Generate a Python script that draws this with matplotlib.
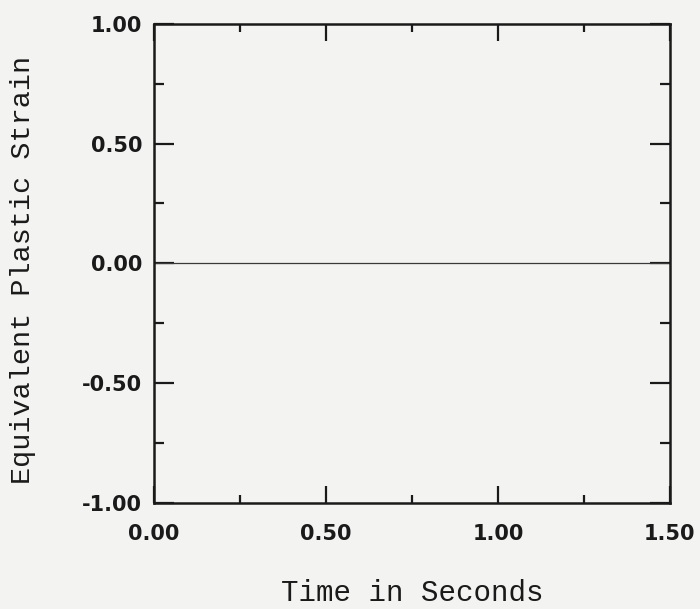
import matplotlib

matplotlib.use("Agg")
import matplotlib.pyplot as plt
from matplotlib.ticker import MultipleLocator

# data: strain stays at zero
time_s = [0.0, 1.5]
strain = [0.0, 0.0]

x_ticks = [0.0, 0.5, 1.0, 1.5]
y_ticks = [-1.0, -0.5, 0.0, 0.5, 1.0]

paper = "#f3f3f1"
ink = "#1a1a1a"

fig = plt.figure(figsize=(7.0, 6.09), dpi=100, facecolor=paper)
ax = fig.add_axes([0.22, 0.174, 0.737, 0.787], facecolor=paper)

ax.plot(time_s, strain, color="#3a3a3a", linewidth=0.9)

ax.set_xlim(0.0, 1.5)
ax.set_ylim(-1.0, 1.0)
ax.set_xticks(x_ticks)
ax.set_yticks(y_ticks)
ax.set_xticklabels([f"{v:.2f}" for v in x_ticks])
ax.set_yticklabels([f"{v:.2f}" for v in y_ticks])
ax.xaxis.set_minor_locator(MultipleLocator(0.25))
ax.yaxis.set_minor_locator(MultipleLocator(0.25))

ax.tick_params(which="both", direction="in", top=True, right=True,
               color=ink, width=1.6)
ax.tick_params(axis="x", which="major", length=12.5, pad=15)
ax.tick_params(axis="x", which="minor", length=6)
ax.tick_params(axis="y", which="major", length=14.5, pad=8.5)
ax.tick_params(axis="y", which="minor", length=7)
for lab in ax.get_xticklabels() + ax.get_yticklabels():
    lab.set_fontfamily("DejaVu Sans")
    lab.set_fontweight("bold")
    lab.set_fontsize(15)
    lab.set_color(ink)

for sp in ax.spines.values():
    sp.set_linewidth(1.8)
    sp.set_color(ink)

ax.set_xlabel("Time in Seconds", fontfamily="Liberation Mono",
              fontsize=21, color=ink, va="center")
ax.xaxis.set_label_coords(0.5, -0.188)
ax.set_ylabel("Equivalent Plastic Strain", fontfamily="Liberation Mono",
              fontsize=20.5, color=ink, va="center")
ax.yaxis.set_label_coords(-0.254, 0.486)

plt.savefig("out.png", dpi=100, facecolor=paper)
plt.close(fig)
